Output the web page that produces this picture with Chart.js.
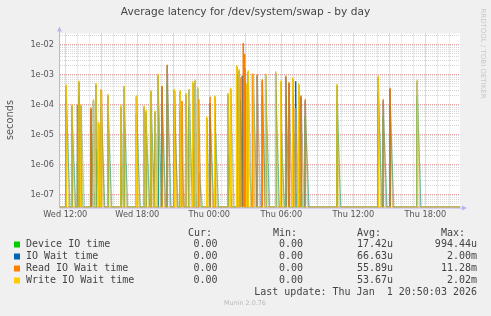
<!DOCTYPE html>
<html>
<head>
<meta charset="utf-8">
<script src="https://cdn.jsdelivr.net/npm/chart.js@4.4.1/dist/chart.umd.min.js"></script>
<style>
  html, body { margin: 0; padding: 0; background: #f0f0f0; overflow: hidden; }
  canvas { display: block; }
</style>
</head>
<body>
<canvas id="chart" width="491" height="316"></canvas>
<script>
// time axis in hours from Wed 00:00
const xTickHours = [12, 18, 24, 30, 36, 42];
const xTickLabels = ['Wed 12:00', 'Wed 18:00', 'Thu 00:00', 'Thu 06:00', 'Thu 12:00', 'Thu 18:00'];
const yTickValues = [1e-7, 1e-6, 1e-5, 1e-4, 1e-3, 1e-2];
const yTickLabels = ['1e-07', '1e-06', '1e-05', '1e-04', '1e-03', '1e-02'];

const seriesNames = ['Device IO time', 'IO Wait time', 'Read IO Wait time', 'Write IO Wait time'];
const legendCur = ['0.00', '0.00', '0.00', '0.00'];
const legendMin = ['0.00', '0.00', '0.00', '0.00'];
const legendAvg = ['17.42u', '66.63u', '55.89u', '53.67u'];
const legendMax = ['994.44u', '2.00m', '11.28m', '2.02m'];
const lastUpdate = 'Last update: Thu Jan  1 20:50:03 2026';

// peaks: [hour, seconds]; everything else is 0
const deviceSpikes = [
  [12.08, 1.5e-4], [12.56, 3.0e-5], [13.02, 1.2e-6], [13.14, 2.0e-4], [14.14, 2.0e-5],
  [14.56, 3.3e-6], [14.98, 8.0e-5], [15.56, 5.0e-5], [16.64, 8.5e-7], [16.89, 1.0e-4],
  [17.93, 5.0e-5], [18.73, 2.0e-5], [19.14, 8.0e-5], [19.73, 3.0e-4], [20.06, 1.0e-4],
  [20.50, 5.0e-4], [21.08, 8.0e-5], [21.58, 6.2e-5], [22.33, 8.0e-5], [22.62, 3.7e-6],
  [23.03, 5.5e-7], [23.12, 5.5e-7], [24.06, 4.0e-5], [24.45, 5.0e-5], [25.56, 2.2e-6],
  [26.28, 9.9e-4], [26.56, 1.4e-4], [27.25, 2.0e-6], [27.67, 3.0e-4], [28.42, 2.0e-4],
  [28.70, 3.0e-4], [29.53, 3.0e-4], [29.95, 1.5e-5], [30.37, 2.0e-4], [30.95, 2.0e-4],
  [31.45, 1.0e-4], [32.00, 4.0e-5], [34.64, 1.2e-4], [38.08, 2.5e-4], [38.50, 4.0e-5],
  [39.06, 1.0e-4], [41.33, 1.8e-4]
];
const ioWaitSpikes = [
  [12.08, 4.0e-4], [12.56, 9.0e-5], [13.02, 9.0e-5], [13.14, 5.5e-4], [13.31, 9.0e-5],
  [14.14, 7.0e-5], [14.35, 1.3e-4], [14.56, 4.5e-4], [14.78, 2.2e-5], [14.98, 3.0e-4],
  [15.56, 2.0e-4], [16.64, 8.0e-5], [16.89, 3.8e-4], [17.93, 1.8e-4], [18.56, 8.0e-5],
  [18.73, 5.5e-5], [19.14, 2.7e-4], [19.48, 5.5e-5], [19.73, 9.0e-4], [20.06, 3.8e-4],
  [20.50, 2.0e-3], [21.08, 3.0e-4], [21.58, 2.7e-4], [22.06, 2.1e-4], [22.33, 3.0e-4],
  [22.62, 5.0e-4], [22.83, 6.0e-4], [23.03, 3.4e-4], [23.78, 3.5e-5], [24.06, 1.1e-4],
  [24.45, 1.8e-4], [25.56, 2.1e-4], [25.78, 3.2e-4], [26.28, 1.8e-3], [26.48, 1.3e-3],
  [26.75, 9.0e-4], [26.95, 1.6e-3], [27.12, 5.0e-4], [27.25, 1.2e-3], [27.67, 9.5e-4],
  [28.00, 9.0e-4], [28.42, 6.0e-4], [28.70, 9.0e-4], [29.53, 1.1e-3], [29.95, 5.5e-4],
  [30.37, 8.0e-4], [30.64, 5.0e-4], [30.95, 7.0e-4], [31.20, 6.0e-4], [31.45, 4.5e-4],
  [31.64, 1.8e-4], [32.00, 1.3e-4], [34.64, 4.2e-4], [38.08, 8.0e-4], [38.50, 1.3e-4],
  [39.06, 3.2e-4], [41.33, 6.0e-4]
];
const readSpikes = [
  [13.02, 1.0e-4], [14.14, 8.0e-5], [15.02, 2.8e-4], [20.06, 4.2e-4], [20.50, 2.1e-3],
  [21.12, 2.9e-4], [21.73, 1.3e-4], [23.12, 1.5e-4], [24.06, 1.8e-4], [26.56, 8.0e-4],
  [26.83, 1.128e-2], [26.95, 4.8e-3], [27.59, 1.05e-3], [28.00, 1.0e-3], [28.42, 7.0e-4],
  [30.37, 9.0e-4], [30.64, 5.5e-4], [31.17, 7.6e-5], [31.64, 2.0e-4], [32.00, 1.5e-4],
  [38.50, 1.5e-4], [39.06, 3.6e-4]
];
const writeSpikes = [
  [12.08, 4.6e-4], [12.56, 1.0e-4], [13.14, 6.2e-4], [13.31, 1.0e-4], [14.35, 1.5e-4],
  [14.56, 5.2e-4], [14.78, 2.6e-5], [14.98, 3.3e-4], [15.56, 2.2e-4], [16.64, 9.6e-5],
  [16.89, 4.2e-4], [17.93, 2.0e-4], [18.56, 9.3e-5], [18.73, 6.5e-5], [19.14, 3.0e-4],
  [19.48, 6.2e-5], [19.73, 1.05e-3], [21.08, 3.3e-4], [21.58, 3.0e-4], [22.06, 2.4e-4],
  [22.33, 3.3e-4], [22.62, 5.8e-4], [22.83, 6.7e-4], [23.03, 3.8e-4], [23.78, 4.0e-5],
  [24.45, 2.0e-4], [25.56, 2.4e-4], [25.78, 3.6e-4], [26.28, 2.02e-3], [26.48, 1.5e-3],
  [27.12, 5.2e-4], [27.25, 1.35e-3], [27.67, 1.05e-3], [28.70, 1.05e-3], [29.53, 1.25e-3],
  [29.95, 6.2e-4], [30.95, 8.0e-4], [31.45, 5.0e-4], [34.64, 4.8e-4], [38.08, 9.0e-4],
  [41.33, 6.7e-4]
];

const X_MIN = 11.56, X_MAX = 44.89;
const Y_MIN = 3.687e-8, Y_MAX = 2.326e-2;
// a log axis cannot show 0, rrdtool draws it on the bottom edge
const FLOOR = Y_MIN;
const colors = ['#00cc00', '#0066b3', '#ff8000', '#ffcc00'];
const fadedColors = ['rgba(0,170,0,0.35)', 'rgba(0,102,179,0.3)', 'rgba(230,120,0,0.4)', 'rgba(220,190,40,0.55)'];
const fallHours = [0.32, 0.28, 0.2, 0.18];   // how far each line slides back to zero

// a spike rises straight up from zero, peaks, and slides back to zero
function toPoints(spikes, fall) {
  const pts = [{ x: X_MIN, y: FLOOR }];
  spikes.forEach(([h, v], i) => {
    const prev = pts[pts.length - 1].x;
    const next = i + 1 < spikes.length ? spikes[i + 1][0] : X_MAX;
    const a = Math.max(h - 0.01, prev);
    const b = Math.min(h + fall, next - 0.02);
    if (a < h) pts.push({ x: a, y: FLOOR });
    pts.push({ x: h, y: v });
    if (b > h) pts.push({ x: b, y: FLOOR });
  });
  pts.push({ x: X_MAX, y: FLOOR });
  return pts;
}

const allSpikes = [deviceSpikes, ioWaitSpikes, readSpikes, writeSpikes];

const rrdPlugin = {
  id: 'rrd',
  beforeDraw(chart) {
    const { ctx, chartArea: a } = chart;
    ctx.save();
    ctx.fillStyle = '#f0f0f0';
    ctx.fillRect(0, 0, chart.width, chart.height);
    ctx.fillStyle = '#ffffff';
    ctx.fillRect(a.left, a.top, a.right - a.left, a.bottom - a.top);
    ctx.restore();
  },
  beforeDatasetsDraw(chart) {
    const { ctx, chartArea: a, scales } = chart;
    ctx.save();
    ctx.lineWidth = 1;
    ctx.setLineDash([1, 1]);
    const hline = (py, col) => {
      ctx.strokeStyle = col;
      ctx.beginPath(); ctx.moveTo(a.left, py); ctx.lineTo(a.right, py); ctx.stroke();
    };
    const vline = (px, col) => {
      ctx.strokeStyle = col;
      ctx.beginPath(); ctx.moveTo(px, a.top); ctx.lineTo(px, a.bottom); ctx.stroke();
    };
    const minor = 'rgba(200,200,200,0.75)';
    const major = 'rgba(235,120,120,0.7)';
    for (let e = -8; e <= -2; e++) {
      for (let m = 2; m <= 9; m++) {
        const v = m * Math.pow(10, e);
        if (v < Y_MIN || v > Y_MAX) continue;
        hline(Math.floor(scales.y.getPixelForValue(v)) + 0.5, minor);
      }
    }
    for (let h = Math.ceil(X_MIN); h <= X_MAX; h++) {
      if (h % 3 !== 0) vline(Math.floor(scales.x.getPixelForValue(h)) + 0.5, minor);
    }
    yTickValues.forEach(v => hline(Math.floor(scales.y.getPixelForValue(v)) + 0.5, major));
    for (let h = Math.ceil(X_MIN); h <= X_MAX; h++) {
      if (h % 3 === 0) vline(Math.floor(scales.x.getPixelForValue(h)) + 0.5, major);
    }
    ctx.restore();
  },
  afterDatasetsDraw(chart) {
    const { ctx, chartArea: a } = chart;
    ctx.save();
    ctx.strokeStyle = '#b8b8e8';
    ctx.fillStyle = '#b8b8e8';
    ctx.lineWidth = 1;
    const ax = a.left - 0.5, ay = a.bottom + 0.5;
    ctx.beginPath();
    ctx.moveTo(ax, ay); ctx.lineTo(ax, a.top - 3);
    ctx.moveTo(ax, ay); ctx.lineTo(a.right + 3, ay);
    ctx.stroke();
    ctx.beginPath();
    ctx.moveTo(ax - 2.5, a.top - 2); ctx.lineTo(ax + 2.5, a.top - 2); ctx.lineTo(ax, a.top - 7);
    ctx.closePath(); ctx.fill();
    ctx.beginPath();
    ctx.moveTo(a.right + 2, ay - 2.5); ctx.lineTo(a.right + 2, ay + 2.5); ctx.lineTo(a.right + 7, ay);
    ctx.closePath(); ctx.fill();
    ctx.restore();
  },
  afterDraw(chart) {
    const { ctx } = chart;
    ctx.save();
    // title
    ctx.fillStyle = '#444';
    ctx.font = '10.6px "DejaVu Sans"';
    ctx.textAlign = 'center';
    ctx.textBaseline = 'middle';
    ctx.fillText('Average latency for /dev/system/swap - by day', 245.5, 12);

    // unit label
    ctx.save();
    ctx.translate(10, 120);
    ctx.rotate(-Math.PI / 2);
    ctx.fillStyle = '#555';
    ctx.font = '9.8px "DejaVu Sans"';
    ctx.fillText('seconds', 0, 0);
    ctx.restore();

    // watermark
    ctx.save();
    ctx.translate(483, 53.5);
    ctx.rotate(Math.PI / 2);
    ctx.fillStyle = '#c8c8c8';
    ctx.font = '7px "DejaVu Sans"';
    ctx.fillText('RRDTOOL / TOBI OETIKER', 0, 0);
    ctx.restore();

    // legend
    ctx.font = '10px "DejaVu Sans Mono"';
    ctx.fillStyle = '#444';
    ctx.textAlign = 'left';
    const headers = ['Cur:', 'Min:', 'Avg:', 'Max:'];
    const headX = [188, 273, 357, 441];
    headers.forEach((t, i) => ctx.fillText(t, headX[i], 233));
    const cols = [legendCur, legendMin, legendAvg, legendMax];
    const colX = [217.5, 303, 393, 477];
    const rowY = [244.5, 256.5, 268.5, 280.5];
    seriesNames.forEach((name, i) => {
      ctx.fillStyle = colors[i];
      ctx.fillRect(14, rowY[i] - 3, 6, 6);
      ctx.fillStyle = '#444';
      ctx.textAlign = 'left';
      ctx.fillText(name, 26, rowY[i]);
      ctx.textAlign = 'right';
      cols.forEach((c, j) => ctx.fillText(c[i], colX[j], rowY[i]));
    });
    ctx.textAlign = 'right';
    ctx.fillText(lastUpdate, 477, 292.5);

    ctx.textAlign = 'center';
    ctx.fillStyle = '#b8b8b8';
    ctx.font = '6.4px "DejaVu Sans"';
    ctx.fillText('Munin 2.0.76', 245, 303.5);
    ctx.restore();
  }
};

const ctx = document.getElementById('chart').getContext('2d');
new Chart(ctx, {
  type: 'line',
  data: {
    datasets: seriesNames.map((name, i) => ({
      label: name,
      data: toPoints(allSpikes[i], fallHours[i]),
      borderColor: colors[i],
      borderWidth: 1.4,
      pointRadius: 0,
      tension: 0,
      fill: false,
      order: 3 - i,
      segment: {
        // sloped way down looks washed out like rrdtool's antialiased lines
        borderColor: c => (c.p1.parsed.y < c.p0.parsed.y ? fadedColors[i] : undefined),
        borderWidth: c => (c.p1.parsed.y < c.p0.parsed.y ? 1.2 : undefined)
      }
    }))
  },
  options: {
    responsive: false,
    animation: false,
    events: [],
    layout: { padding: { top: 33.5, right: 31, bottom: 94.5, left: 0 } },
    plugins: { legend: { display: false }, tooltip: { enabled: false }, title: { display: false } },
    scales: {
      x: {
        type: 'linear',
        min: X_MIN,
        max: X_MAX,
        grid: { display: false, drawTicks: false },
        border: { display: false },
        afterBuildTicks: s => { s.ticks = xTickHours.map(v => ({ value: v })); },
        afterFit: s => { s.height = 14; },
        ticks: {
          autoSkip: false,
          maxRotation: 0,
          padding: 2,
          color: '#555',
          font: { family: 'DejaVu Sans', size: 8.2 },
          callback: v => { const i = xTickHours.indexOf(v); return i >= 0 ? xTickLabels[i] : ''; }
        }
      },
      y: {
        type: 'logarithmic',
        min: Y_MIN,
        max: Y_MAX,
        grid: { display: false, drawTicks: false },
        border: { display: false },
        afterBuildTicks: s => { s.ticks = yTickValues.map(v => ({ value: v })); },
        afterFit: s => { s.width = 60; },
        ticks: {
          autoSkip: false,
          padding: 6,
          color: '#555',
          font: { family: 'DejaVu Sans', size: 8.2 },
          callback: v => {
            const i = yTickValues.findIndex(t => Math.abs(t - v) / t < 1e-6);
            return i >= 0 ? yTickLabels[i] : '';
          }
        }
      }
    }
  },
  plugins: [rrdPlugin]
});
</script>
</body>
</html>
